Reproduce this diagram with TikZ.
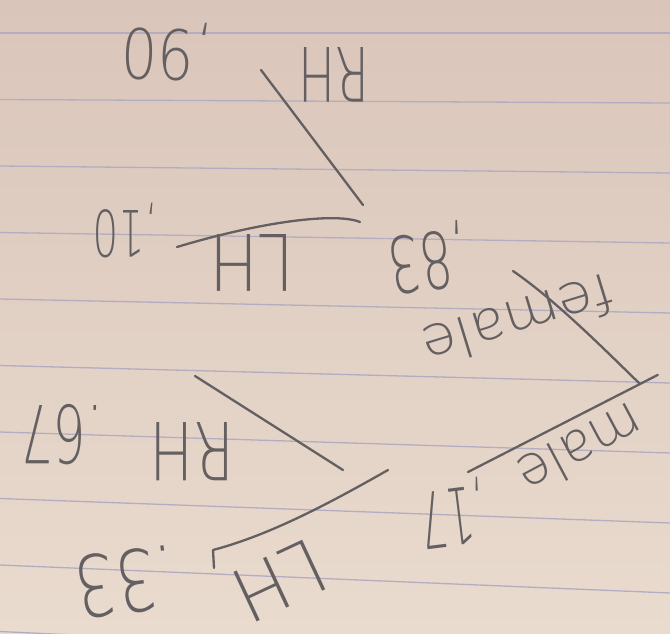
\documentclass[tikz,border=0pt]{standalone}
\usepackage{fontspec}
\usepackage{tikz}
\usetikzlibrary{positioning}
\newfontfamily\pencilfont{DejaVu Sans ExtraLight}
\newcommand\handsize[1]{\fontsize{#1}{#1}\selectfont}
\definecolor{paper}{RGB}{225,206,193}
\definecolor{paperlight}{RGB}{233,219,206}
\definecolor{paperdark}{RGB}{218,197,186}
\definecolor{rule}{RGB}{180,173,193}
\definecolor{pencil}{RGB}{100,95,96}

\begin{document}
\begin{tikzpicture}[
        x=1pt, y=-1pt,
        branch/.style={draw=pencil, line width=2.3pt, line cap=round, line join=round},
        hand/.style={text=pencil, inner sep=0pt, font=\pencilfont\handsize{#1}},
        ruled/.style={draw=rule, line width=1.3pt},
    ]

    % 0. Paper
    \useasboundingbox (0,0) rectangle (670,634);
    \shade[top color=paperdark, middle color=paper, bottom color=paperlight]
        (0,0) rectangle (670,634);
    \clip (0,0) rectangle (670,634);
    \foreach \i in {0,...,9}
        \draw[ruled] (0,{33+66.5*\i}) -- (670,{33+70*\i});

    % 1. Root and first split
    \coordinate (root) at (640,384);
    \coordinate (male) at (468,472);
    \coordinate (female) at (513,271);
    \node[hand=55, rotate=208, xscale=.98] (male_lbl) at (581,450) {male};
    \node[hand=78, rotate=187, xscale=.55] (male_p) at (453,513) {,17};
    \node[hand=55, rotate=197, xscale=1.04] (female_lbl) at (518,321) {female};
    \node[hand=78, rotate=188, xscale=.65] (female_p) at (428,258) {,83};

    % 2. Male subtree
    \coordinate (m_rh0) at (343,470);
    \coordinate (m_rh) at (195,376);
    \coordinate (m_lh0) at (388,470);
    \coordinate (m_lh) at (213,550);
    \node[hand=80, rotate=180, xscale=.73] (m_rh_lbl) at (192,452) {RH};
    \node[hand=80, rotate=180, xscale=.65] (m_rh_p) at (62,435) {.67};
    \node[hand=75, rotate=205, xscale=.95] (m_lh_lbl) at (280,581) {LH};
    \node[hand=85, rotate=188, xscale=.76] (m_lh_p) at (126,582) {.33};

    % 3. Female subtree
    \coordinate (f_rh0) at (363,205);
    \coordinate (f_rh) at (261,70);
    \coordinate (f_lh0) at (360,222);
    \coordinate (f_lh) at (177,247);
    \node[hand=75, rotate=180, xscale=.66] (f_rh_lbl) at (334,75) {RH};
    \node[hand=69, rotate=178, xscale=.83] (f_rh_p) at (167,51) {,90};
    \node[hand=78, rotate=180, xscale=.84] (f_lh_lbl) at (252,263) {LH};
    \node[hand=64, rotate=180, xscale=.63] (f_lh_p) at (125,231) {,10};

    % --- Branches ---
    \draw[branch, shorten <=-20pt] (root) -- (male);
    \draw[branch] (root) .. controls (600,345) and (555,300) .. (female);
    \draw[branch] (m_rh0) -- (m_rh);
    \draw[branch] (m_lh0) .. controls (330,503) and (270,535) .. (m_lh) -- ++(1,18);
    \draw[branch] (f_rh0) -- (f_rh);
    \draw[branch] (f_lh0) .. controls (335,212) and (260,222) .. (f_lh);

\end{tikzpicture}
\end{document}
